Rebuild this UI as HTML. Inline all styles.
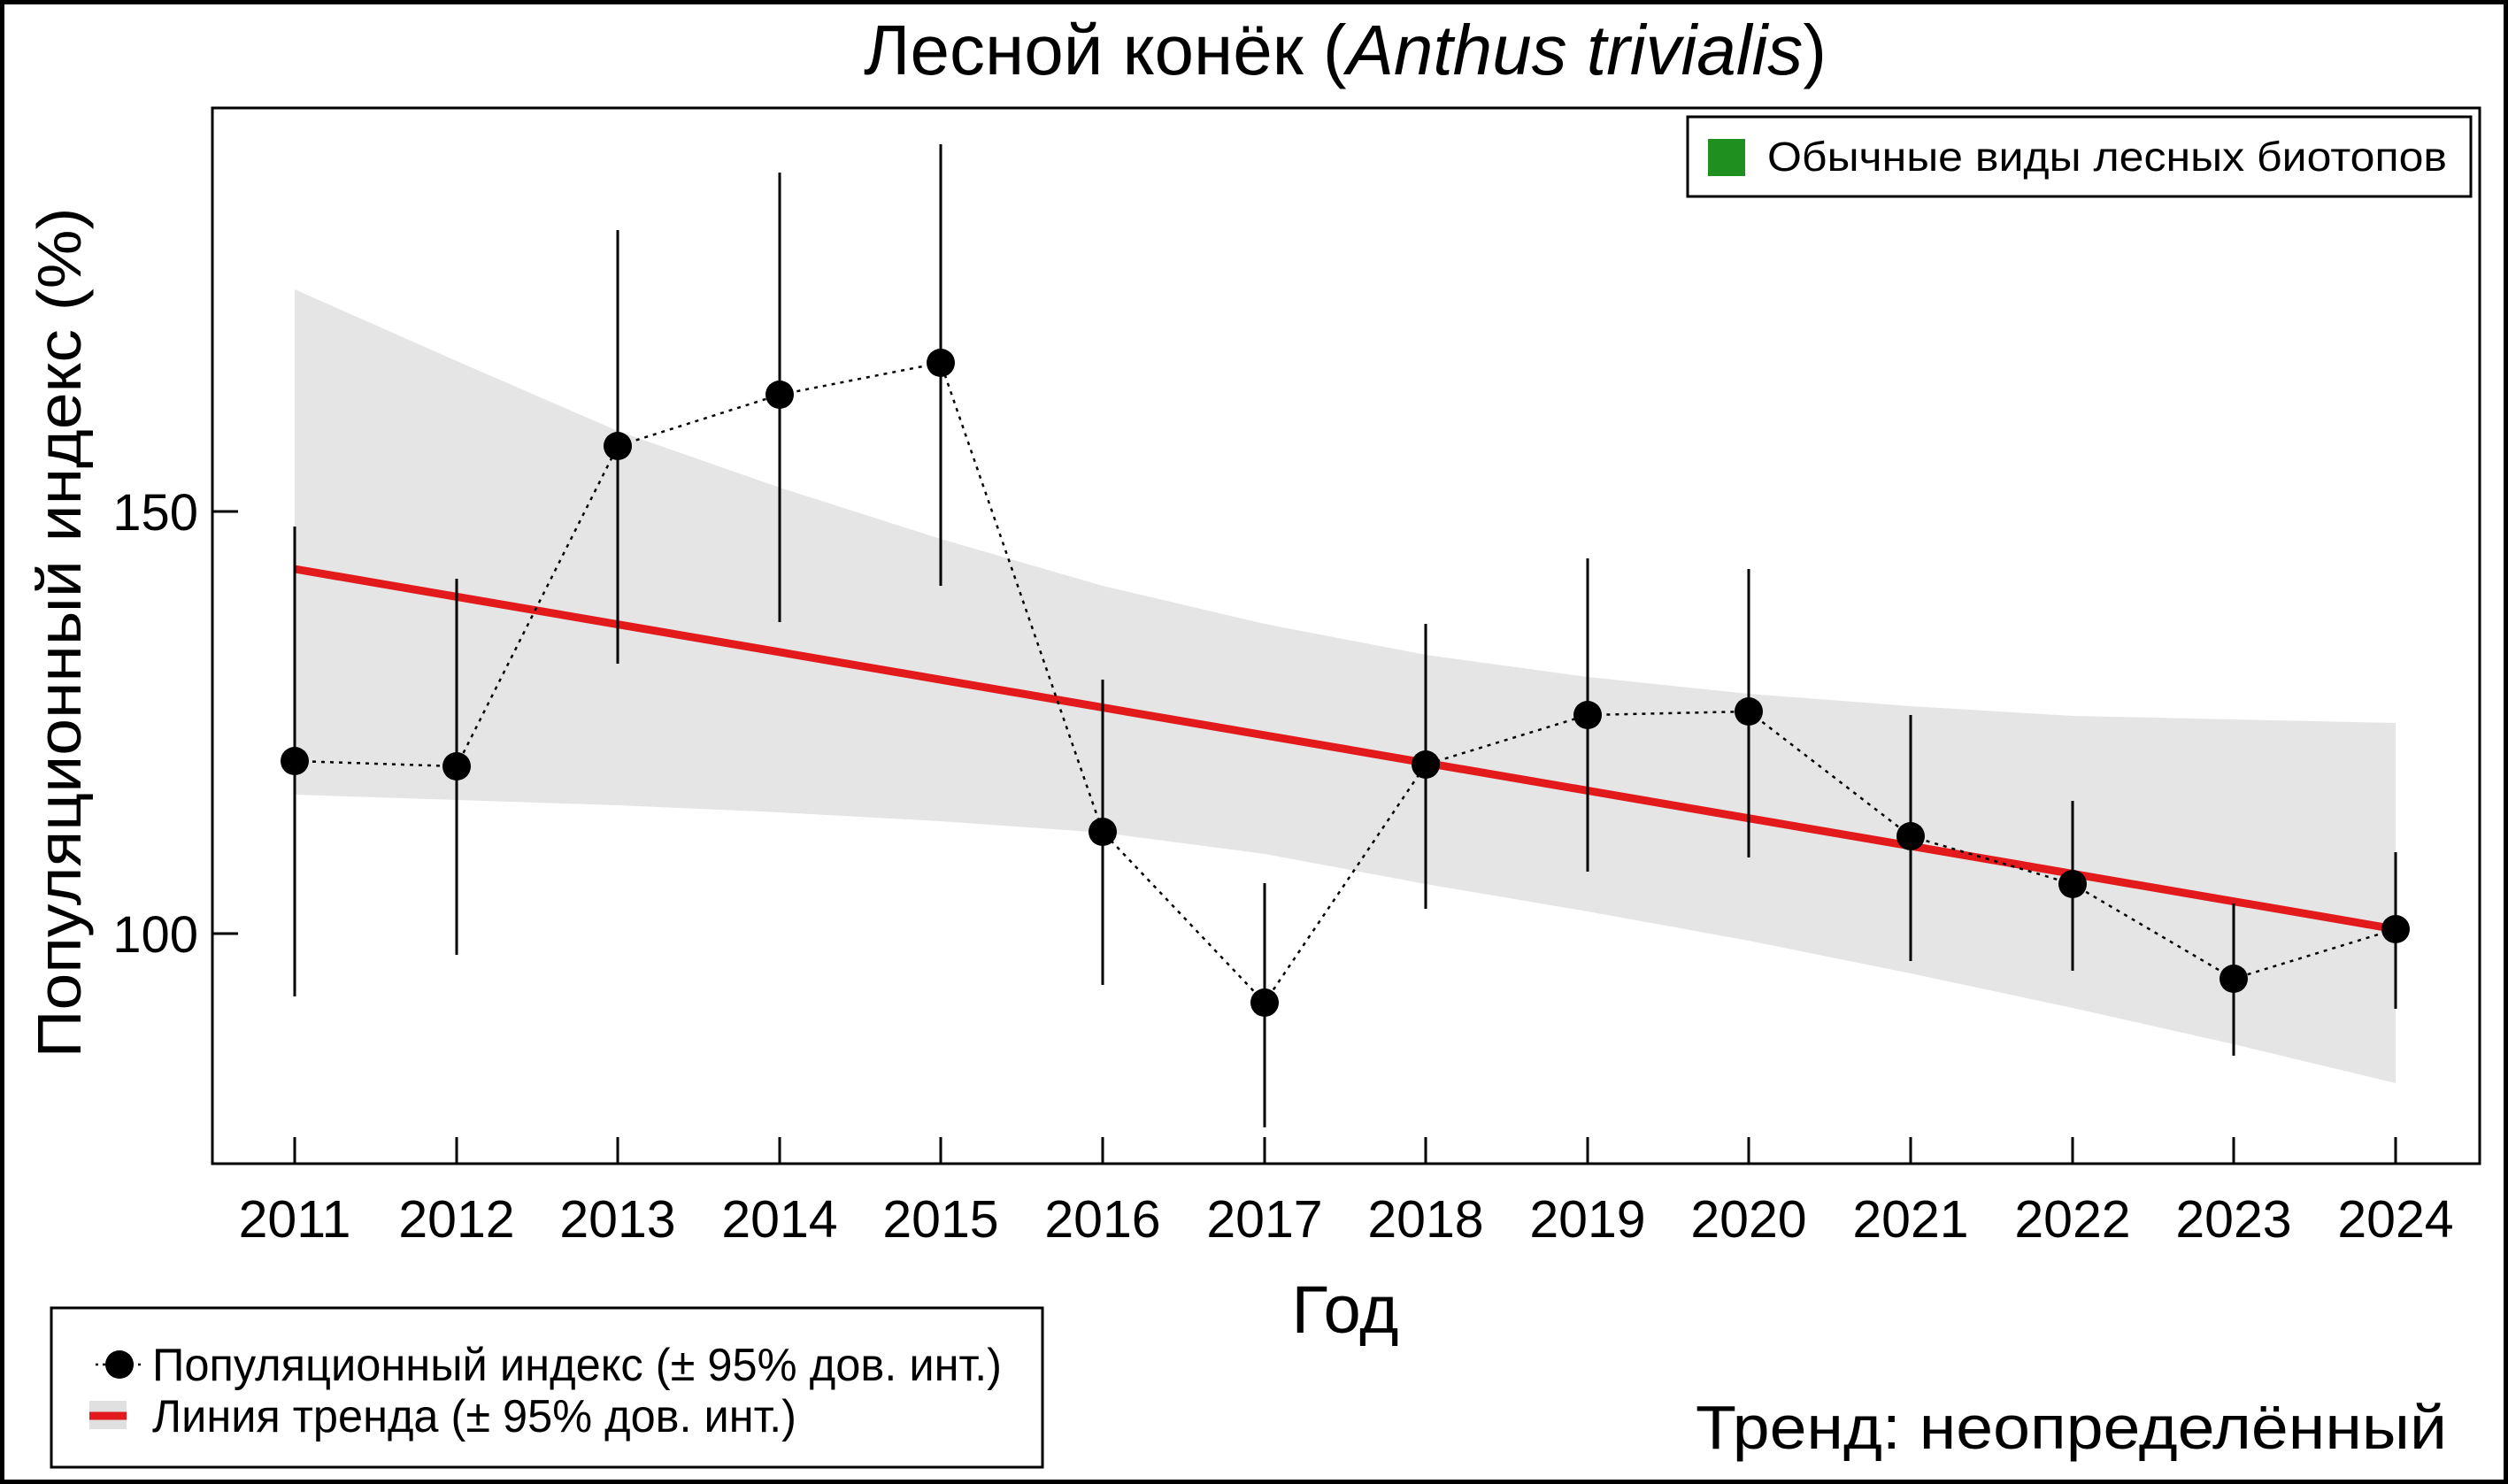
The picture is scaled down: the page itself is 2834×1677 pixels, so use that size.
<!DOCTYPE html>
<html><head><meta charset="utf-8"><style>html,body{margin:0;padding:0;background:#fff}svg{display:block}</style></head>
<body>
<svg width="2834" height="1677" viewBox="0 0 2834 1677" xmlns="http://www.w3.org/2000/svg" font-family="Liberation Sans, sans-serif">
<rect x="0" y="0" width="2834" height="1677" fill="#fff"/>
<rect x="2.5" y="2.5" width="2829" height="1672" fill="none" stroke="#000" stroke-width="5"/>
<text x="1520" y="84" font-size="80" text-anchor="middle">Лесной конёк (<tspan font-style="italic">Anthus trivialis</tspan>)</text>
<polygon fill="#e5e5e5" points="333,327 516,408 698,487 881,551 1063,609 1246,662 1429,705 1611,740 1794,765 1976,784 2159,798 2342,809 2524,813 2707,817 2707,1224 2524,1180 2342,1139 2159,1100 1976,1063 1794,1030 1611,999 1429,965 1246,941 1063,928 881,918 698,910 516,904 333,898"/>
<line x1="333" y1="643" x2="2707" y2="1050" stroke="#e31a1c" stroke-width="9"/>
<g stroke="#000" stroke-width="3">
<line x1="333" y1="595" x2="333" y2="1126"/>
<line x1="516" y1="654" x2="516" y2="1079"/>
<line x1="698" y1="260" x2="698" y2="750"/>
<line x1="881" y1="195" x2="881" y2="703"/>
<line x1="1063" y1="163" x2="1063" y2="662"/>
<line x1="1246" y1="768" x2="1246" y2="1113"/>
<line x1="1429" y1="998" x2="1429" y2="1274"/>
<line x1="1611" y1="705" x2="1611" y2="1027"/>
<line x1="1794" y1="631" x2="1794" y2="985"/>
<line x1="1976" y1="643" x2="1976" y2="969"/>
<line x1="2159" y1="808" x2="2159" y2="1086"/>
<line x1="2342" y1="905" x2="2342" y2="1097"/>
<line x1="2524" y1="1021" x2="2524" y2="1193"/>
<line x1="2707" y1="963" x2="2707" y2="1140"/>
</g>
<polyline fill="none" stroke="#000" stroke-width="2.5" stroke-dasharray="4,6" points="333,860 516,866 698,504 881,446 1063,410 1246,940 1429,1133 1611,864 1794,808 1976,804 2159,945 2342,999 2524,1106 2707,1050"/>
<g fill="#000">
<circle cx="333" cy="860" r="16"/><circle cx="516" cy="866" r="16"/><circle cx="698" cy="504" r="16"/>
<circle cx="881" cy="446" r="16"/><circle cx="1063" cy="410" r="16"/><circle cx="1246" cy="940" r="16"/>
<circle cx="1429" cy="1133" r="16"/><circle cx="1611" cy="864" r="16"/><circle cx="1794" cy="808" r="16"/>
<circle cx="1976" cy="804" r="16"/><circle cx="2159" cy="945" r="16"/><circle cx="2342" cy="999" r="16"/>
<circle cx="2524" cy="1106" r="16"/><circle cx="2707" cy="1050" r="16"/>
</g>
<rect x="240" y="122" width="2562" height="1193" fill="none" stroke="#000" stroke-width="3"/>
<g stroke="#000" stroke-width="3">
<line x1="240" y1="578" x2="269" y2="578"/><line x1="240" y1="1055" x2="269" y2="1055"/>
<line x1="333" y1="1315" x2="333" y2="1285"/><line x1="516" y1="1315" x2="516" y2="1285"/>
<line x1="698" y1="1315" x2="698" y2="1285"/><line x1="881" y1="1315" x2="881" y2="1285"/>
<line x1="1063" y1="1315" x2="1063" y2="1285"/><line x1="1246" y1="1315" x2="1246" y2="1285"/>
<line x1="1429" y1="1315" x2="1429" y2="1285"/><line x1="1611" y1="1315" x2="1611" y2="1285"/>
<line x1="1794" y1="1315" x2="1794" y2="1285"/><line x1="1976" y1="1315" x2="1976" y2="1285"/>
<line x1="2159" y1="1315" x2="2159" y2="1285"/><line x1="2342" y1="1315" x2="2342" y2="1285"/>
<line x1="2524" y1="1315" x2="2524" y2="1285"/><line x1="2707" y1="1315" x2="2707" y2="1285"/>
</g>
<g font-size="58" text-anchor="end">
<text x="224" y="599">150</text><text x="224" y="1076">100</text>
</g>
<g font-size="59" text-anchor="middle">
<text x="333" y="1398">2011</text><text x="516" y="1398">2012</text><text x="698" y="1398">2013</text>
<text x="881" y="1398">2014</text><text x="1063" y="1398">2015</text><text x="1246" y="1398">2016</text>
<text x="1429" y="1398">2017</text><text x="1611" y="1398">2018</text><text x="1794" y="1398">2019</text>
<text x="1976" y="1398">2020</text><text x="2159" y="1398">2021</text><text x="2342" y="1398">2022</text>
<text x="2524" y="1398">2023</text><text x="2707" y="1398">2024</text>
</g>
<text x="1520" y="1506" font-size="76" text-anchor="middle">Год</text>
<text transform="translate(91,715) rotate(-90)" font-size="70" text-anchor="middle" textLength="961" lengthAdjust="spacingAndGlyphs">Популяционный индекс (%)</text>
<rect x="1907" y="132" width="885" height="90" fill="#fff" stroke="#000" stroke-width="3"/>
<rect x="1930" y="157" width="42" height="42" fill="#1f8f1f"/>
<text x="1997" y="193" font-size="46" textLength="768" lengthAdjust="spacingAndGlyphs">Обычные виды лесных биотопов</text>
<rect x="58" y="1478" width="1120" height="180" fill="#fff" stroke="#000" stroke-width="3"/>
<line x1="108" y1="1542" x2="160" y2="1542" stroke="#000" stroke-width="2.5" stroke-dasharray="3,5"/>
<circle cx="135" cy="1542" r="16" fill="#000"/>
<text x="172" y="1560" font-size="52" textLength="960" lengthAdjust="spacingAndGlyphs">Популяционный индекс (± 95% дов. инт.)</text>
<rect x="101" y="1583" width="42" height="32" fill="#e0e0e0"/>
<line x1="101" y1="1600" x2="143" y2="1600" stroke="#e31a1c" stroke-width="9"/>
<text x="172" y="1618" font-size="52" textLength="728" lengthAdjust="spacingAndGlyphs">Линия тренда (± 95% дов. инт.)</text>
<text x="1916" y="1637" font-size="70" textLength="849" lengthAdjust="spacingAndGlyphs">Тренд: неопределённый</text>
</svg>
</body></html>
